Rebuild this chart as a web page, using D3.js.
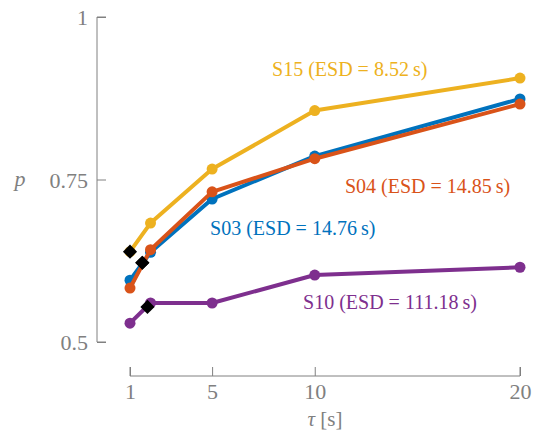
<!DOCTYPE html>
<html><head><meta charset="utf-8">
<script src="https://cdn.jsdelivr.net/npm/d3@7"></script>
<style>body{margin:0;background:#fff}svg{display:block}text{font-family:"Liberation Serif",serif}</style>
</head><body><div id="c"></div>
<script>
const taus = [1, 2, 5, 10, 20];
const seriesNames = ["S03", "S04", "S15", "S10"];
const seriesLabels = ["S03 (ESD = 14.76\u2009s)", "S04 (ESD = 14.85\u2009s)", "S15 (ESD = 8.52\u2009s)", "S10 (ESD = 111.18\u2009s)"];
const seriesColors = ["#0072BD", "#D95319", "#EDB120", "#7E2F8E"];
const valuesS03 = [0.595, 0.638, 0.720, 0.786, 0.874];
const valuesS04 = [0.583, 0.642, 0.731, 0.782, 0.866];
const valuesS15 = [0.639, 0.683, 0.766, 0.856, 0.906];
const valuesS10 = [0.529, 0.560, 0.560, 0.603, 0.615];
const seriesValues = [valuesS03, valuesS04, valuesS15, valuesS10];
const diamondTau = [1.6, 1.6, 1.0, 1.85];
const diamondP = [0.622, 0.622, 0.639, 0.554];
const labelPos = [[4.9, 0.675], [11.47, 0.74], [7.92, 0.92], [9.43, 0.5615]]; // [tau, p] anchors (start)
const yTicks = [0.5, 0.75, 1];
const xTicks = [1, 5, 10, 20];

const W = 534, H = 434;
const svg = d3.select("#c").append("svg").attr("width", W).attr("height", H);
const x = d3.scaleLinear().domain([1, 20]).range([130, 520]);
const y = d3.scaleLinear().domain([0.5, 1]).range([342, 17]);
const axisColor = "#808080";
const ff = "Liberation Serif";

// y axis
const ya = svg.append("g").attr("transform", "translate(97,0)")
  .call(d3.axisRight(y).tickValues(yTicks).tickSize(9).tickFormat(d => d === 1 ? "1" : String(d)));
ya.select(".domain").attr("stroke", axisColor).attr("d", `M9,${y(0.5)}H0V${y(1)}H9`);
ya.selectAll(".tick line").attr("stroke", axisColor);
ya.selectAll(".tick text").attr("x", -9).attr("text-anchor", "end").attr("fill", axisColor)
  .attr("font-size", 22).attr("dy", "0.35em").style("font-family", ff);

// x axis
const xa = svg.append("g").attr("transform", "translate(0,376)")
  .call(d3.axisTop(x).tickValues(xTicks).tickSize(9));
xa.select(".domain").attr("stroke", axisColor).attr("d", `M${x(1)},-9V0H${x(20)}V-9`);
xa.selectAll(".tick line").attr("stroke", axisColor);
xa.selectAll(".tick text").attr("y", 15).attr("dy", "0.35em").attr("fill", axisColor)
  .attr("font-size", 22).style("font-family", ff);

// axis labels
svg.append("text").attr("x", 20).attr("y", 178).attr("dy", "0.35em").attr("text-anchor", "middle")
  .attr("font-size", 22).attr("font-style", "italic").attr("fill", axisColor).text("p");
const xl = svg.append("text").attr("x", 325).attr("y", 419).attr("dy", "0.35em").attr("text-anchor", "middle")
  .attr("font-size", 21).attr("fill", axisColor);
xl.append("tspan").attr("font-style", "italic").text("\u03C4");
xl.append("tspan").text(" [s]");

const line = d3.line().x((d, i) => x(taus[i])).y(d => y(d));
seriesValues.forEach((vals, k) => {
  const g = svg.append("g");
  g.append("path").attr("d", line(vals)).attr("fill", "none").attr("stroke", seriesColors[k])
    .attr("stroke-width", 4).attr("stroke-linejoin", "round");
  g.selectAll("circle").data(vals).join("circle")
    .attr("cx", (d, i) => x(taus[i])).attr("cy", d => y(d)).attr("r", 5.5).attr("fill", seriesColors[k]);
});

// diamonds
diamondTau.forEach((t, k) => {
  svg.append("path").attr("d", d3.symbol(d3.symbolSquare, 100)())
    .attr("transform", `translate(${x(t)},${y(diamondP[k])}) rotate(45)`).attr("fill", "#000");
});

// labels
seriesLabels.forEach((s, k) => {
  svg.append("text").attr("x", x(labelPos[k][0])).attr("y", y(labelPos[k][1])).attr("dy", "0.35em")
    .attr("font-size", 20).attr("fill", seriesColors[k]).text(s);
});
</script></body></html>
